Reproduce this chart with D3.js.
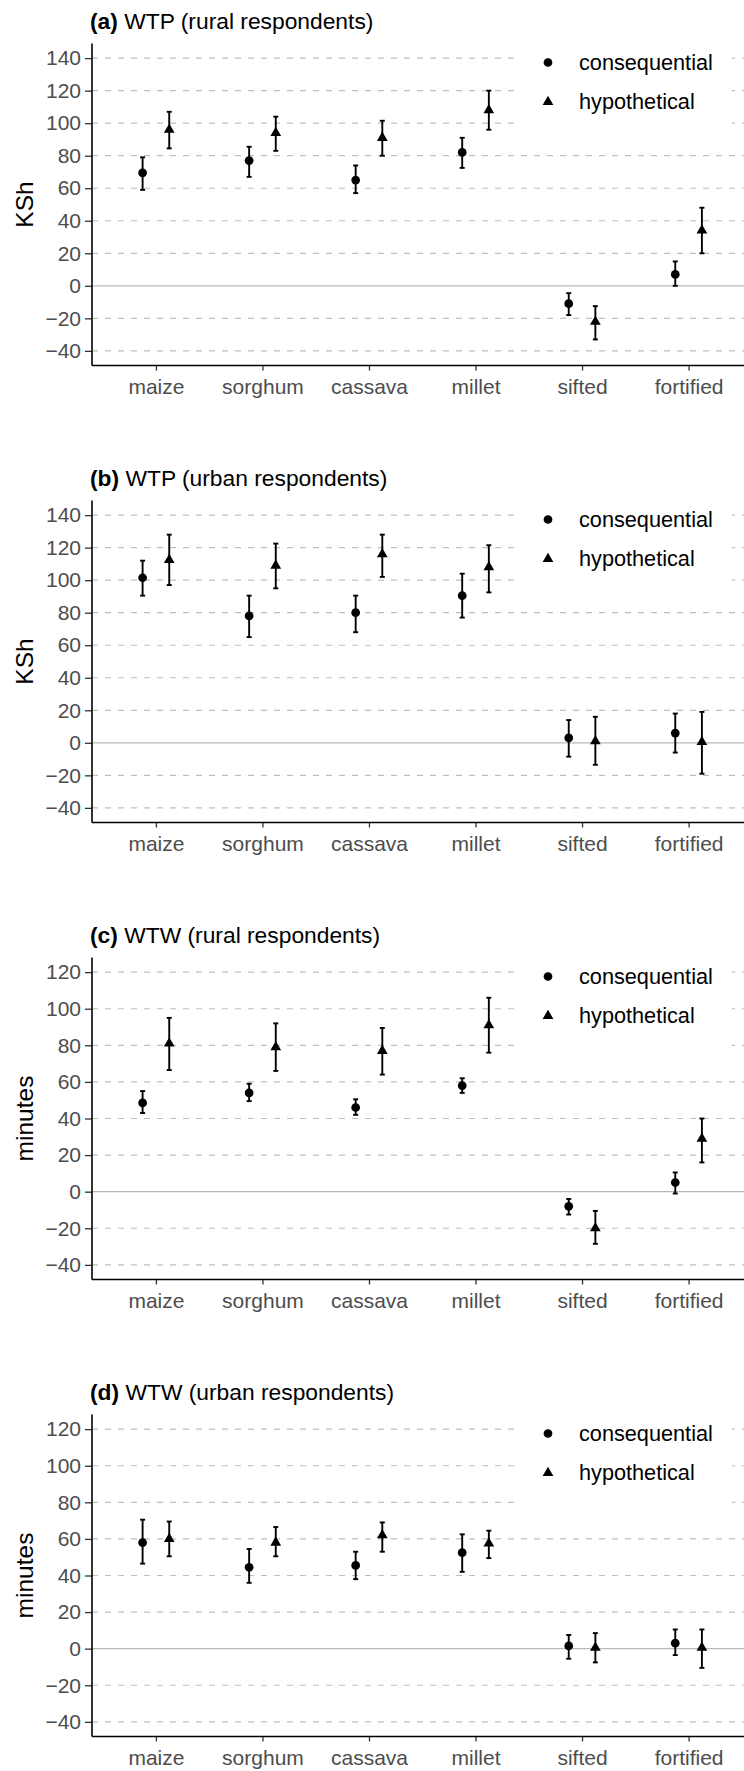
<!DOCTYPE html>
<html>
<head>
<meta charset="utf-8">
<title>WTP and WTW by flour type</title>
<script src="https://cdnjs.cloudflare.com/ajax/libs/d3/7.8.5/d3.min.js"></script>
<style>
  html, body { margin: 0; padding: 0; background: #fff; }
  svg { display: block; font-family: "Liberation Sans", Arial, sans-serif; }
</style>
</head>
<body>
<script>
// categories and series
var foods = ["maize", "sorghum", "cassava", "millet", "sifted", "fortified"];
var series = ["consequential", "hypothetical"];

// tick values (KSh panels and minutes panels)
var wtpTicks = [-40, -20, 0, 20, 40, 60, 80, 100, 120, 140];
var wtwTicks = [-40, -20, 0, 20, 40, 60, 80, 100, 120];

// (a) WTP rural
var aConsMean = [69.5, 77, 65, 82, -11, 7];
var aConsLow  = [59, 67, 57, 72.5, -18, 0];
var aConsHigh = [79, 85.5, 74, 91, -4.5, 15];
var aHypMean  = [96, 94, 91, 108, -22, 34];
var aHypLow   = [84.5, 83, 80, 96, -33, 20];
var aHypHigh  = [107, 104, 101.5, 120, -12.5, 48];

// (b) WTP urban
var bConsMean = [101.5, 78, 80, 90.5, 3, 6];
var bConsLow  = [90.5, 65, 68, 77, -8.5, -6];
var bConsHigh = [112, 90.5, 90.5, 104, 14, 18];
var bHypMean  = [112.5, 109, 116, 108, 1, 0.5];
var bHypLow   = [97, 95, 102, 92.5, -13.5, -19];
var bHypHigh  = [128, 122.5, 128, 121.5, 16, 19];

// (c) WTW rural
var cConsMean = [48.5, 54, 46, 58, -8, 5];
var cConsLow  = [43, 49.5, 42, 54, -12.5, -1];
var cConsHigh = [55, 59, 50.5, 62, -4, 10.5];
var cHypMean  = [81, 79, 77, 91, -20, 29];
var cHypLow   = [66.5, 66, 64, 76, -28.5, 16];
var cHypHigh  = [95, 92, 89.5, 106, -10.5, 40];

// (d) WTW urban
var dConsMean = [58, 44.5, 45.5, 52.5, 1.5, 3];
var dConsLow  = [46.5, 36, 38, 42, -5.5, -3.5];
var dConsHigh = [70.5, 54.5, 53, 62.5, 7.5, 10.5];
var dHypMean  = [60, 58, 62, 57.5, 0.5, 0.5];
var dHypLow   = [50.5, 50.5, 53, 49.5, -7.5, -10.5];
var dHypHigh  = [69.5, 66.5, 69, 64.5, 8.5, 10.5];

function rows(mean, low, high) {
    return foods.map(function(f, i) { return { food: f, mean: mean[i], low: low[i], high: high[i] }; });
}

var panels = [
    { tag: "(a)", title: " WTP (rural respondents)", ylab: "KSh", ticks: wtpTicks,
      cons: rows(aConsMean, aConsLow, aConsHigh), hyp: rows(aHypMean, aHypLow, aHypHigh) },
    { tag: "(b)", title: " WTP (urban respondents)", ylab: "KSh", ticks: wtpTicks,
      cons: rows(bConsMean, bConsLow, bConsHigh), hyp: rows(bHypMean, bHypLow, bHypHigh) },
    { tag: "(c)", title: " WTW (rural respondents)", ylab: "minutes", ticks: wtwTicks,
      cons: rows(cConsMean, cConsLow, cConsHigh), hyp: rows(cHypMean, cHypLow, cHypHigh) },
    { tag: "(d)", title: " WTW (urban respondents)", ylab: "minutes", ticks: wtwTicks,
      cons: rows(dConsMean, dConsLow, dConsHigh), hyp: rows(dHypMean, dHypLow, dHypHigh) }
];

var width = 744, height = 1771;
var svg = d3.select('body').append('svg').attr('width', width).attr('height', height);

var left = 92, right = 752.5;
var panelH = 322;
var panelStep = 457;
var firstTop = 43.5;

var x = d3.scalePoint().domain(foods).range([left, right]).padding(0.6);
var dodge = x.step() * 0.125;
var shift = { consequential: -dodge, hypothetical: dodge };

var circle = d3.symbol().type(d3.symbolCircle).size(60);
var triangle = d3.symbol().type(d3.symbolTriangle).size(50);
var shapes = { consequential: circle, hypothetical: triangle };

panels.forEach(function(p, k) {
    var top = firstTop + k * panelStep;
    var bottom = top + panelH;
    var lo = d3.min(p.ticks), hi = d3.max(p.ticks);
    var pad = (hi - lo) * 0.05;
    var y = d3.scaleLinear().domain([lo - pad, hi + pad]).range([bottom, top]);

    var g = svg.append('g');

    // grid lines
    g.selectAll('.grid').data(p.ticks.filter(function(t) { return t !== 0; })).enter().append('line')
        .attr('x1', left).attr('x2', width)
        .attr('y1', function(d) { return y(d); }).attr('y2', function(d) { return y(d); })
        .attr('stroke', '#bfbfbf').attr('stroke-width', 1.2).attr('stroke-dasharray', '6,7');
    g.append('line').attr('x1', left).attr('x2', width).attr('y1', y(0)).attr('y2', y(0))
        .attr('stroke', '#b8b8b8').attr('stroke-width', 1.3);

    // legend box (white background hides grid)
    var lg = g.append('g');
    lg.append('rect').attr('x', 515).attr('y', top + 1).attr('width', 217).attr('height', 99).attr('fill', '#fff');
    series.forEach(function(s, i) {
        var ly = top + 19 + i * 39.4;
        lg.append('path').attr('d', shapes[s]()).attr('transform', 'translate(548,' + ly + ')').attr('fill', '#000');
        lg.append('text').attr('x', 579).attr('y', ly).attr('dy', '0.35em')
            .attr('font-size', 21.7).attr('fill', '#000').text(s);
    });

    // axes
    var yAxis = d3.axisLeft(y).tickValues(p.ticks).tickSize(7).tickPadding(4);
    var ya = g.append('g').attr('transform', 'translate(' + left + ',0)').call(yAxis);
    ya.select('.domain').remove();
    ya.selectAll('.tick line').attr('stroke', '#333').attr('stroke-width', 1.3);
    ya.selectAll('.tick text').attr('font-size', 21).attr('fill', '#4d4d4d').attr('font-family', null);

    var xAxis = d3.axisBottom(x).tickSize(5).tickPadding(9);
    var xa = g.append('g').attr('transform', 'translate(0,' + bottom + ')').call(xAxis);
    xa.select('.domain').remove();
    xa.selectAll('.tick line').attr('stroke', '#333').attr('stroke-width', 1.3);
    xa.selectAll('.tick text').attr('font-size', 21).attr('fill', '#4d4d4d').attr('font-family', null);

    g.append('line').attr('x1', left).attr('x2', left).attr('y1', top).attr('y2', bottom)
        .attr('stroke', '#000').attr('stroke-width', 1.6);
    g.append('line').attr('x1', left).attr('x2', width).attr('y1', bottom).attr('y2', bottom)
        .attr('stroke', '#000').attr('stroke-width', 1.6);

    // axis title
    g.append('text').attr('transform', 'translate(33,' + ((top + bottom) / 2) + ') rotate(-90)')
        .attr('text-anchor', 'middle').attr('font-size', 24.5).attr('fill', '#000').text(p.ylab);

    // panel title
    var t = g.append('text').attr('x', 90).attr('y', top - 15).attr('font-size', 22.8).attr('fill', '#000');
    t.append('tspan').attr('font-weight', 'bold').text(p.tag);
    t.append('tspan').text(p.title);

    // error bars and points
    series.forEach(function(s) {
        var data = s === 'consequential' ? p.cons : p.hyp;
        var cx = function(d) { return x(d.food) + shift[s]; };
        var eb = g.selectAll('.eb-' + s).data(data).enter().append('g')
            .attr('stroke', '#000').attr('stroke-width', 1.9);
        eb.append('line').attr('x1', cx).attr('x2', cx)
            .attr('y1', function(d) { return y(d.low); }).attr('y2', function(d) { return y(d.high); });
        eb.append('line').attr('x1', function(d) { return cx(d) - 2.5; }).attr('x2', function(d) { return cx(d) + 2.5; })
            .attr('y1', function(d) { return y(d.low); }).attr('y2', function(d) { return y(d.low); });
        eb.append('line').attr('x1', function(d) { return cx(d) - 2.5; }).attr('x2', function(d) { return cx(d) + 2.5; })
            .attr('y1', function(d) { return y(d.high); }).attr('y2', function(d) { return y(d.high); });

        g.selectAll('.pt-' + s).data(data).enter().append('path')
            .attr('d', shapes[s]())
            .attr('transform', function(d) { return 'translate(' + cx(d) + ',' + y(d.mean) + ')'; })
            .attr('fill', '#000');
    });
});
</script>
</body>
</html>
